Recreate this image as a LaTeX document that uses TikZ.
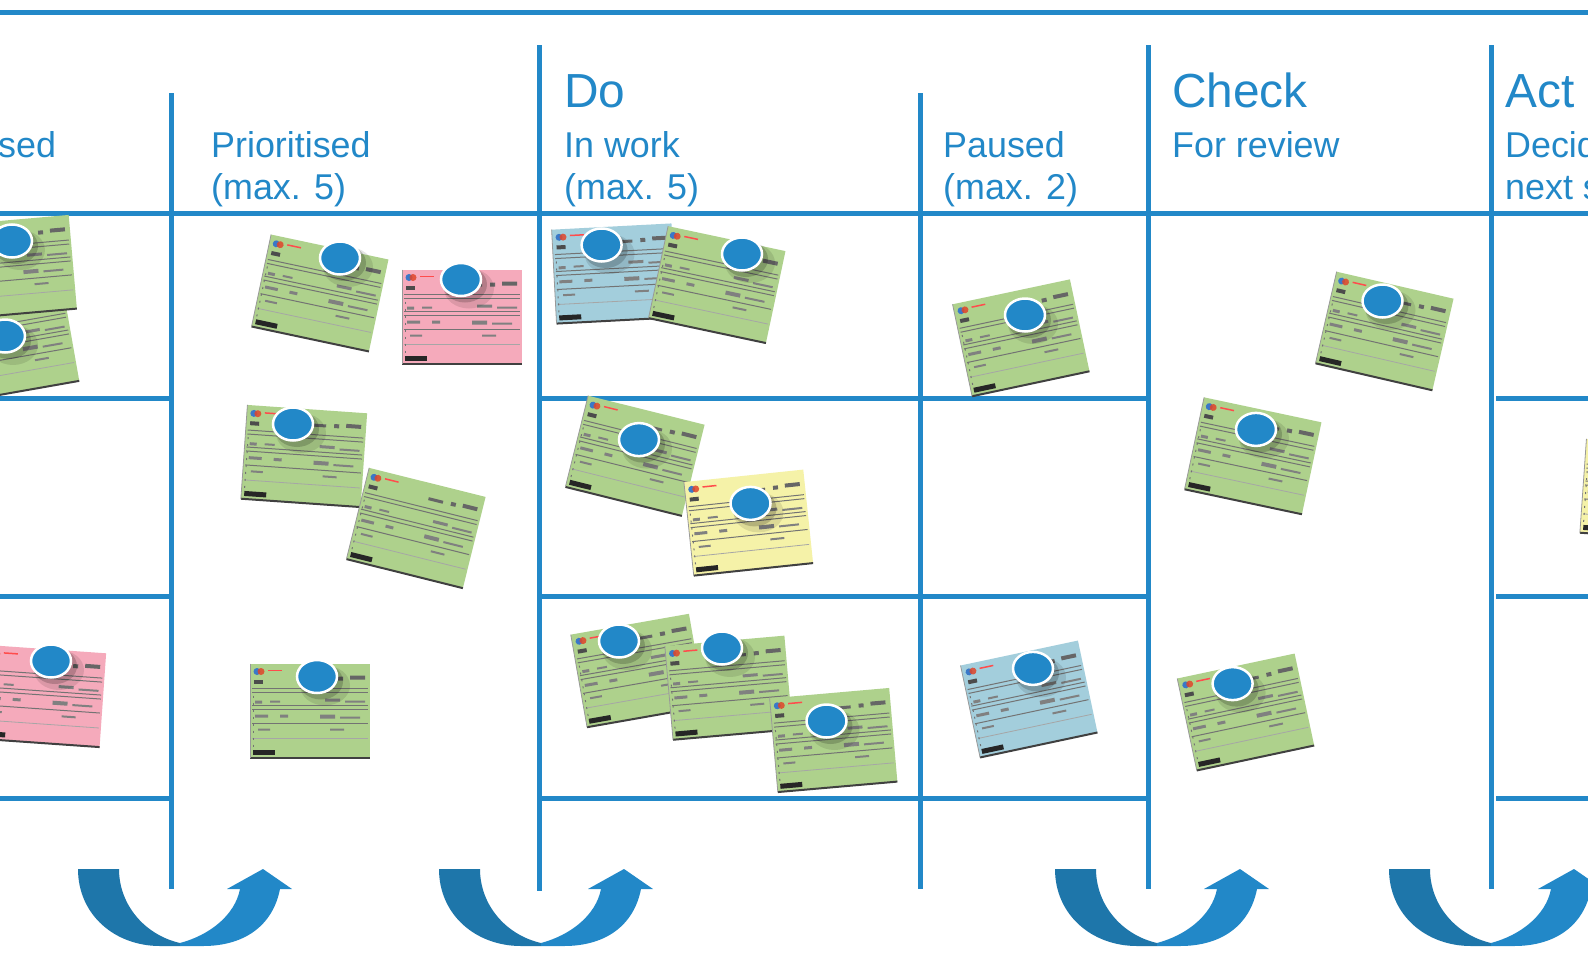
\documentclass[tikz,border=0pt]{standalone}
\usepackage{fontspec}
\setmainfont{Liberation Sans}
\definecolor{lineblue}{HTML}{2288C8}
\definecolor{pinblue}{HTML}{2288C8}
\definecolor{arrowdark}{HTML}{1E76AA}
\definecolor{cardgreen}{HTML}{AED18C}
\definecolor{cardpink}{HTML}{F5AABB}
\definecolor{cardblue}{HTML}{A3CEDC}
\definecolor{cardyellow}{HTML}{F5F2A8}
\definecolor{logoblue}{HTML}{3A78C8}
\definecolor{logored}{HTML}{E0452A}
\tikzset{
  gridline/.style={draw=lineblue,line width=5bp},
  hdr/.style={anchor=base west,inner sep=0pt,text=lineblue,font=\fontsize{36}{40}\selectfont},
  ttl/.style={anchor=base west,inner sep=0pt,text=lineblue,font=\fontsize{48}{52}\selectfont}
}
\newcommand\postcard[4]{%
\begin{scope}[shift={(#1,#2)},rotate=#3]
 \fill[#4] (-60,-47) rectangle (60,47);
 \draw[black!75,line width=2bp] (-60,47) -- (60,47);
 \draw[black!40,line width=0.8bp] (-60,-47) -- (-60,47);
 \fill[logoblue] (-53,-39) circle (3.5bp);
 \fill[logored,opacity=0.85] (-49,-39) circle (3.5bp);
 \fill[red!70] (-42,-41) rectangle (-28,-39.5);
 \fill[black!70] (-56,-31) rectangle (-47,-27);
 \fill[black!60] (5,-33) rectangle (20,-30) (28,-34) rectangle (33,-30) (40,-35) rectangle (55,-31);
 \draw[black!55,line width=1bp] (-58,-22) -- (58,-22) (-58,-18) -- (58,-18)
   (-58,-5) -- (58,-5) (-58,-1) -- (58,-1) (-58,13) -- (58,13);
 \draw[black!35,line width=0.8bp] (-58,28) -- (58,28);
 \fill[black!50] (-55,-10) rectangle (-48,-7) (-40,-10) rectangle (-30,-8)
   (15,-12) rectangle (30,-9) (35,-10) rectangle (55,-8)
   (-55,4) rectangle (-42,7) (-30,4) rectangle (-22,7)
   (10,4) rectangle (25,8) (30,6) rectangle (50,8)
   (-52,18) rectangle (-40,20) (20,18) rectangle (34,20);
 \draw[black!55,line width=1bp,dash pattern=on 2bp off 5bp] (-57,-15) -- (-57,38);
 \fill[black!85] (-57,39) rectangle (-35,44);
\end{scope}}
\newcommand\pushpin[2]{%
 \fill[black,opacity=0.10] (#1+8,#2+9) ellipse (25bp and 20bp);
 \fill[black,opacity=0.18] (#1+4,#2+5) ellipse (22bp and 18bp);
 \filldraw[draw=white,line width=2.5bp,fill=pinblue] (#1,#2) ellipse (20bp and 16.5bp);}
\newcommand\cyclearrow[1]{%
 \fill[arrowdark] (#1-102,869) -- (#1-61,869) .. controls (#1-61,905) and (#1-35,935) .. (#1,943)
   -- (#1,946) -- (#1-20,946) .. controls (#1-65,946) and (#1-102,915) .. cycle;
 \fill[pinblue] (#1,943) .. controls (#1+30,935) and (#1+55,915) .. (#1+60,889)
   -- (#1+47,889) -- (#1+83,869) -- (#1+112,889) -- (#1+100,889)
   .. controls (#1+93,925) and (#1+65,946) .. (#1+23,946) -- (#1,946) -- cycle;}
\begin{document}
\begin{tikzpicture}[x=1bp,y=-1bp]
\useasboundingbox (0,0) rectangle (1588,962);
\fill[white] (0,0) rectangle (1588,962);
% frame lines
\draw[gridline] (0,12) -- (1588,12);
\draw[gridline] (0,213) -- (1588,213);
\draw[gridline] (171,93) -- (171,889);
\draw[gridline] (539,45) -- (539,891);
\draw[gridline] (920,93) -- (920,889);
\draw[gridline] (1148,45) -- (1148,889);
\draw[gridline] (1491,45) -- (1491,889);
\foreach \yy in {398,596,798}{
  \draw[gridline] (0,\yy) -- (171,\yy);
  \draw[gridline] (539,\yy) -- (1148,\yy);
  \draw[gridline] (1496,\yy) -- (1588,\yy);
}
% headers
\node[hdr] (h1) at (-2,157) {sed};
\node[hdr] (h2a) at (211,157) {Prioritised};
\node[hdr] (h2b) at (211,199) {(max. 5)};
\node[ttl] (t3) at (564,107) {Do};
\node[hdr] (h3a) at (564,157) {In work};
\node[hdr] (h3b) at (564,199) {(max. 5)};
\node[hdr] (h4a) at (943,157) {Paused};
\node[hdr] (h4b) at (943,199) {(max. 2)};
\node[ttl] (t5) at (1172,107) {Check};
\node[hdr] (h5a) at (1172,157) {For review};
\node[ttl] (t6) at (1505,107) {Act};
\node[hdr] (h6a) at (1505,157) {Decid};
\node[hdr] (h6b) at (1505,199) {next s};
% cards
\postcard{12}{345}{10}{cardgreen}
\postcard{13}{267}{5}{cardgreen}
\postcard{43}{696}{-4}{cardpink}
\postcard{320}{293}{-12}{cardgreen}
\postcard{462}{316.5}{0}{cardpink}
\postcard{304}{456}{-4}{cardgreen}
\postcard{416}{528}{-14}{cardgreen}
\postcard{310}{710.5}{0}{cardgreen}
\postcard{614}{273.5}{3}{cardblue}
\postcard{717}{284.6}{-12}{cardgreen}
\postcard{635}{455.8}{-14}{cardgreen}
\postcard{748.5}{522.6}{6}{cardyellow}
\postcard{638}{670.5}{10}{cardgreen}
\postcard{728.7}{687.7}{5}{cardgreen}
\postcard{833.5}{740}{5}{cardgreen}
\postcard{1021}{337.8}{12}{cardgreen}
\postcard{1029}{699}{12}{cardblue}
\postcard{1384.5}{331}{-13}{cardgreen}
\postcard{1253}{455.8}{-12}{cardgreen}
\postcard{1245.7}{712}{12}{cardgreen}
\postcard{1643}{490}{-4}{cardyellow}
% pins
\pushpin{5}{336}
\pushpin{12}{241}
\pushpin{51}{661}
\pushpin{340}{258}
\pushpin{461}{279.5}
\pushpin{293}{424}
\pushpin{317}{676.5}
\pushpin{601.6}{245}
\pushpin{742}{254}
\pushpin{639}{439.6}
\pushpin{750.5}{503.4}
\pushpin{619}{641}
\pushpin{722}{648}
\pushpin{826.5}{721}
\pushpin{1025}{315}
\pushpin{1033}{668.4}
\pushpin{1382.5}{301}
\pushpin{1256}{429.4}
\pushpin{1232.6}{683.6}
% cycle arrows
\cyclearrow{180}
\cyclearrow{541}
\cyclearrow{1157}
\cyclearrow{1491}
\end{tikzpicture}
\end{document}
